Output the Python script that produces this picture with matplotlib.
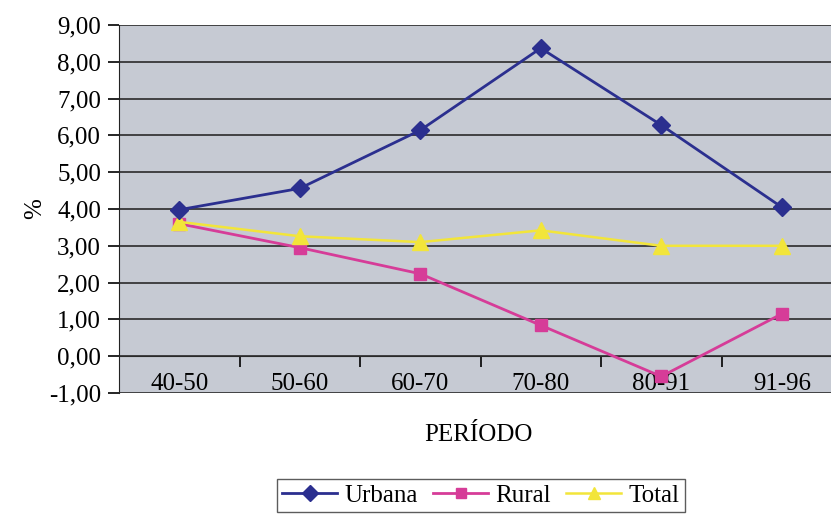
import matplotlib.pyplot as plt
from matplotlib.ticker import FixedLocator, FuncFormatter

periodos = ["40-50", "50-60", "60-70", "70-80", "80-91", "91-96"]
urbana = [3.98, 4.56, 6.14, 8.37, 6.28, 4.05]
rural = [3.60, 2.95, 2.24, 0.84, -0.55, 1.15]
total = [3.65, 3.26, 3.10, 3.42, 3.00, 3.00]

plt.rcParams['font.family'] = ['Liberation Serif', 'DejaVu Serif']
fs = 18

fig = plt.figure(figsize=(8.31, 5.14), dpi=100)
ax = fig.add_axes([119/831, 1-393/514, (842-119)/831, (393-25)/514])
ax.set_facecolor('#c6cad3')

x = list(range(len(periodos)))
ax.plot(x, urbana, color='#2b2f8f', marker='D', markersize=9, lw=2, label='Urbana', zorder=4)
ax.plot(x, rural, color='#d63c98', marker='s', markersize=9, lw=2, label='Rural', zorder=3)
ax.plot(x, total, color='#f2e53a', marker='^', markersize=11, lw=1.8, label='Total', zorder=3)

ax.set_xlim(-0.5, 5.5)
ax.set_ylim(-1, 9)
ax.set_yticks(range(-1, 10))
ax.yaxis.set_major_formatter(FuncFormatter(lambda v, p: f"{v:.2f}".replace('.', ',')))
ax.grid(axis='y', color='#2a2a2a', lw=1.2)
ax.set_axisbelow(True)

ax.spines['bottom'].set_position(('data', 0))
ax.spines['bottom'].set_color('#2a2a2a')
ax.spines['top'].set_visible(False)
ax.spines['right'].set_visible(False)
ax.spines['left'].set_color('#222222')
ax.set_xticks(x)
ax.set_xticklabels(periodos)
ax.xaxis.set_minor_locator(FixedLocator([0.5, 1.5, 2.5, 3.5, 4.5]))
ax.tick_params(axis='x', which='major', length=0, pad=12, labelsize=fs)
ax.tick_params(axis='x', which='minor', length=8, width=1.2, direction='out')
ax.tick_params(axis='y', length=8, width=1.2, labelsize=fs, pad=5)

ax.set_ylabel('%', fontsize=fs, labelpad=2)
fig.text(478/831, 1-435/514, 'PERÍODO', fontsize=fs, ha='center', va='center')

leg = fig.legend(loc='upper center', bbox_to_anchor=(481/831, 1-479/514), ncol=3,
                 fontsize=fs, frameon=True, fancybox=False, edgecolor='#333333',
                 handlelength=2.2, columnspacing=0.6, handletextpad=0.3, borderpad=0.2,
                 borderaxespad=0, markerscale=0.85)
leg.get_frame().set_linewidth(1.0)

fig.savefig('out.png', dpi=100)
